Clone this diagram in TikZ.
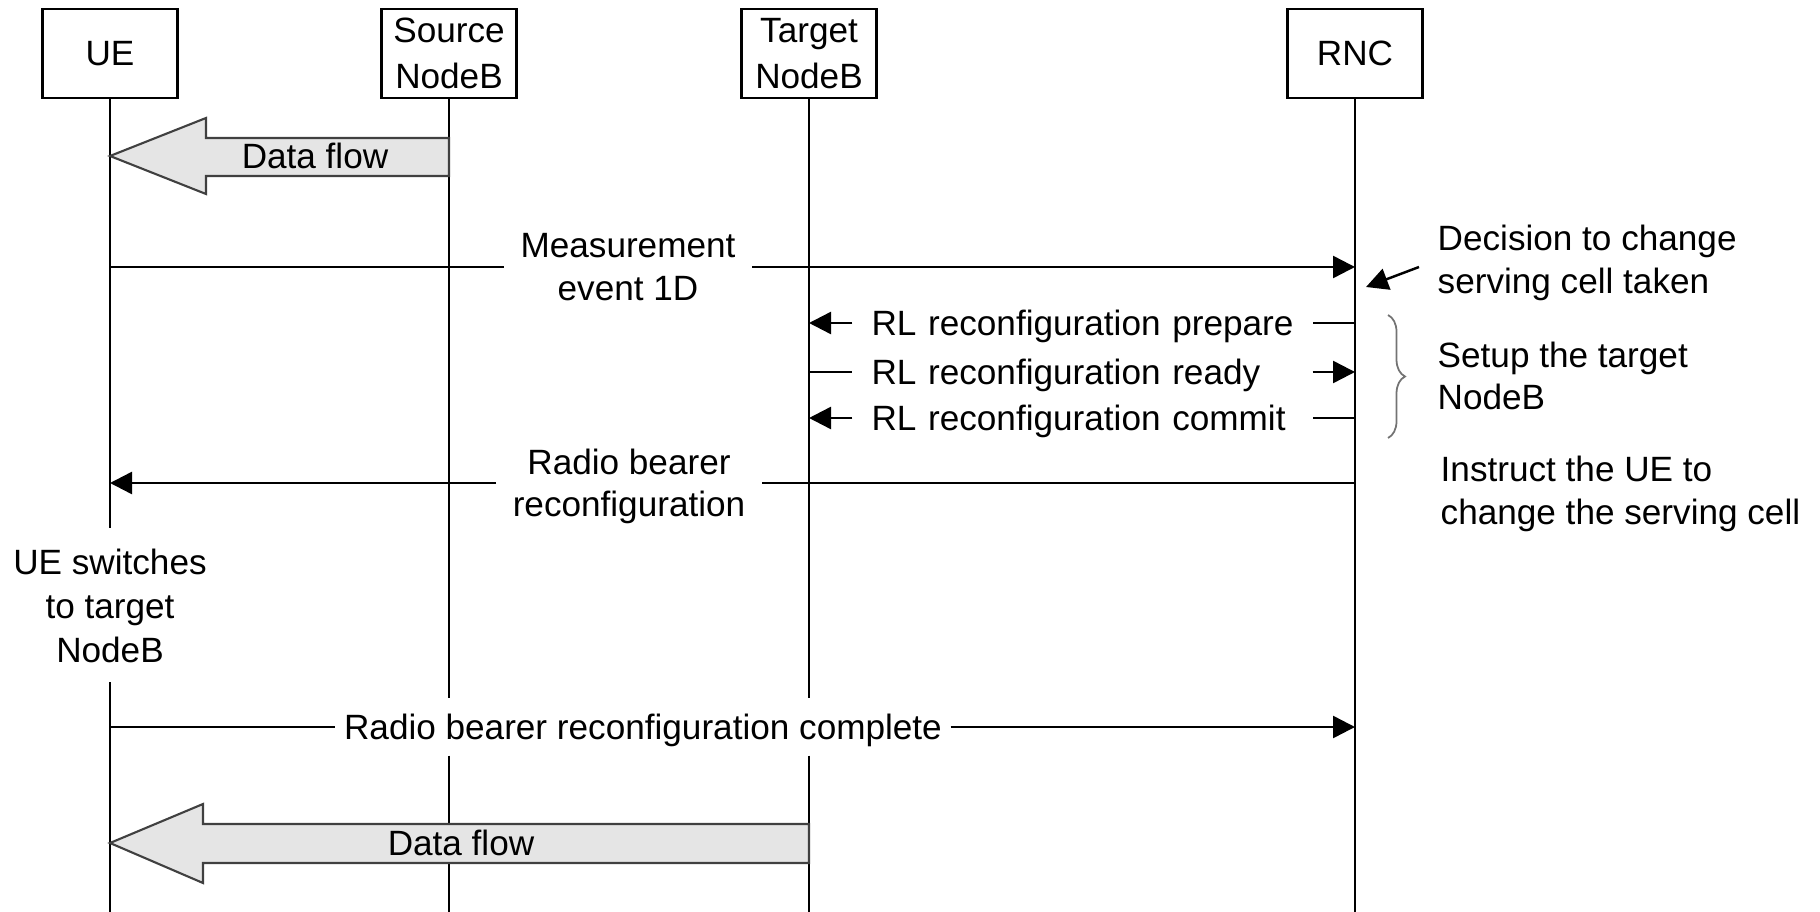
\documentclass[tikz,border=0pt]{standalone}
\usepackage{fontspec}
\setmainfont{Liberation Sans}
\usetikzlibrary{arrows.meta,decorations.pathreplacing}
\begin{document}
\begin{tikzpicture}[x=0.1mm,y=-0.1mm,
  font=\fontsize{10}{12}\selectfont,
  entity/.style={draw,line width=0.8pt,minimum width=13.5mm,minimum height=8.9mm,align=center,inner sep=0pt,font=\fontsize{10}{13.1}\selectfont},
  life/.style={line width=0.65pt},
  msg/.style={line width=0.7pt},
  tip/.style={-{Triangle[length=2.2mm,width=2.2mm]}},
  lbl/.style={align=center,inner xsep=1.6mm,inner ysep=0pt},
  rl/.style={text width=42.2mm,align=left,inner xsep=1.85mm,inner ysep=0pt,text depth=0pt},
  note/.style={align=left,anchor=west,inner sep=0pt},
  flow/.style={fill=black!10,draw=black!75,line width=0.6pt}
]
\useasboundingbox (0,0) rectangle (1820,912);

% entities
\node[entity] (ue)  at (110,53.5)  {UE};
\node[entity] (src) at (449,53.5)  {Source\\NodeB};
\node[entity] (tgt) at (809,53.5)  {Target\\NodeB};
\node[entity] (rnc) at (1355,53.5) {RNC};

% bottom ends of lifelines
\coordinate (ueEnd)  at (110,912);
\coordinate (srcEnd) at (449,912);
\coordinate (tgtEnd) at (809,912);
\coordinate (rncEnd) at (1355,912);
\coordinate (ueStop)  at (110,528);
\coordinate (ueGo)    at (110,682);

% texts on lifelines
\node[align=center,inner sep=0pt,font=\fontsize{10}{12.4}\selectfont] (sw) at (110,606) {UE switches\\to target\\NodeB};
\node[inner xsep=0.8mm,inner ysep=0pt,minimum height=5.6mm,text depth=0pt] (cpl) at (643,727) {Radio bearer reconfiguration complete};

% lifelines
\draw[life] (ue.south) -- (ueStop);
\draw[life] (ueGo) -- (ueEnd);
\draw[life] (src.south) -- (src |- cpl.north);
\draw[life] (src |- cpl.south) -- (srcEnd);
\draw[life] (tgt.south) -- (tgt |- cpl.north);
\draw[life] (tgt |- cpl.south) -- (tgtEnd);
\draw[life] (rnc.south) -- (rncEnd);

% data flow 1
\filldraw[flow] (449,138) -- (206,138) -- (206,118) -- (110,156) -- (206,194) -- (206,176) -- (449,176) -- cycle;
\node (df1) at (315,156) {Data flow};

% measurement
\node[lbl] (me) at (628,267) {Measurement\\event 1D};
\draw[msg] (ue |- me) -- (me.west);
\draw[msg,tip] (me.east) -- (rnc |- me);

% RL messages
\node[rl] (p1) at (1082.5,323) {RL reconfiguration prepare};
\draw[msg] (rnc |- p1) -- (p1.east);
\draw[msg,tip] (p1.west) -- (tgt |- p1);

\node[rl] (p2) at (1082.5,372) {RL reconfiguration ready};
\draw[msg] (tgt |- p2) -- (p2.west);
\draw[msg,tip] (p2.east) -- (rnc |- p2);

\node[rl] (p3) at (1082.5,418) {RL reconfiguration commit};
\draw[msg] (rnc |- p3) -- (p3.east);
\draw[msg,tip] (p3.west) -- (tgt |- p3);

% radio bearer reconfiguration
\node[lbl,text depth=0pt] (rb) at (629,483) {Radio bearer\\reconfiguration};
\draw[msg] (rnc |- rb) -- (rb.east);
\draw[msg,tip] (rb.west) -- (ue |- rb);

% complete
\draw[msg] (ue |- cpl) -- (cpl.west);
\draw[msg,tip] (cpl.east) -- (rnc |- cpl);

% data flow 2
\filldraw[flow] (809,824) -- (203,824) -- (203,804) -- (110,843) -- (203,883) -- (203,863) -- (809,863) -- cycle;
\node (df2) at (461,843) {Data flow};

% notes
\node[note] (dec) at (1437,263) {Decision to change\\serving cell taken};
\coordinate (decA) at (1419,267);
\coordinate (decB) at (1366,287);
\draw[msg,tip] (decA) -- (decB);

\draw[black!55,line width=0.5pt,decorate,decoration={brace,amplitude=1.7mm}] (1388,315) -- (1388,438);
\node[note] (set) at (1437,376) {Setup the target\\NodeB};

\node[note] (ins) at (1440,494) {Instruct the UE to\\change the serving cell};
\end{tikzpicture}
\end{document}
